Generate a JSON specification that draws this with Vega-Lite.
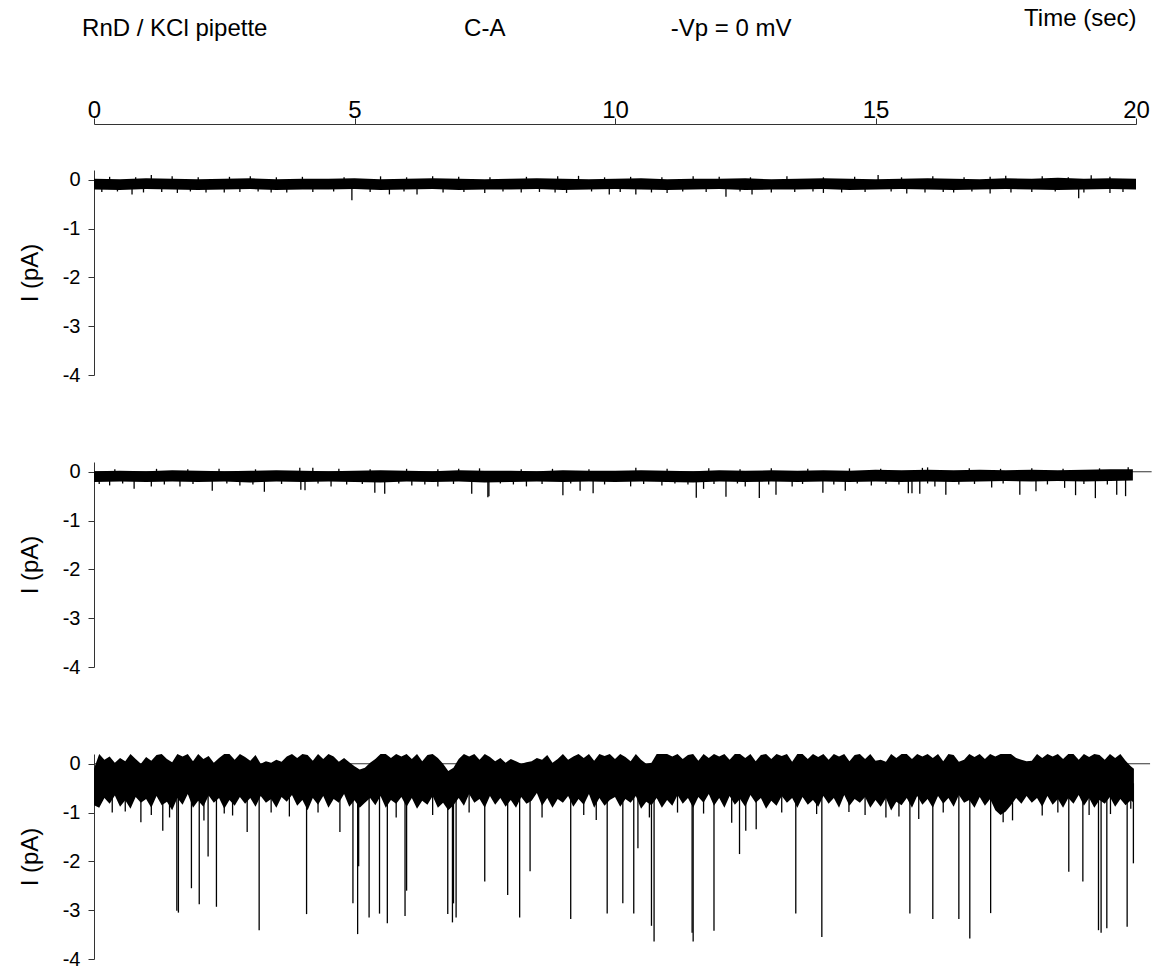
{
  "$schema": "https://vega.github.io/schema/vega-lite/v6.json",
  "padding": {"left": 18, "top": 6, "right": 4, "bottom": 0},
  "config": {
    "font": "Liberation Sans",
    "view": {"stroke": null},
    "axis": {"grid": false, "domainColor": "#333", "tickColor": "#333", "labelColor": "#000", "titleColor": "#000", "titleFontWeight": "normal", "tickSize": 6},
    "axisY": {"labelFontSize": 20, "titleFontSize": 24, "labelPadding": 8, "titlePadding": 20}
  },
  "datasets": {
    "hdr": [
      {"label": "RnD / KCl pipette", "t": 1.55},
      {"label": "C-A", "t": 7.5},
      {"label": "-Vp = 0 mV", "t": 12.23}
    ],
    "b1": [
      {"t":0,"lo":-0.2,"hi":0.02},{"t":0.5,"lo":-0.21,"hi":0.01},{"t":1.0,"lo":-0.19,"hi":0.03},{"t":1.5,"lo":-0.2,"hi":0.02},
      {"t":2.0,"lo":-0.21,"hi":0.01},{"t":2.5,"lo":-0.2,"hi":0.02},{"t":3.0,"lo":-0.19,"hi":0.03},{"t":3.5,"lo":-0.21,"hi":0.01},
      {"t":4.0,"lo":-0.2,"hi":0.02},{"t":4.5,"lo":-0.2,"hi":0.02},{"t":5.0,"lo":-0.19,"hi":0.03},{"t":5.5,"lo":-0.21,"hi":0.01},
      {"t":6.0,"lo":-0.2,"hi":0.02},{"t":6.5,"lo":-0.19,"hi":0.03},{"t":7.0,"lo":-0.21,"hi":0.02},{"t":7.5,"lo":-0.2,"hi":0.01},
      {"t":8.0,"lo":-0.2,"hi":0.02},{"t":8.5,"lo":-0.19,"hi":0.03},{"t":9.0,"lo":-0.21,"hi":0.02},{"t":9.5,"lo":-0.2,"hi":0.01},
      {"t":10.0,"lo":-0.19,"hi":0.02},{"t":10.5,"lo":-0.2,"hi":0.03},{"t":11.0,"lo":-0.21,"hi":0.01},{"t":11.5,"lo":-0.2,"hi":0.02},
      {"t":12.0,"lo":-0.19,"hi":0.02},{"t":12.5,"lo":-0.21,"hi":0.03},{"t":13.0,"lo":-0.2,"hi":0.01},{"t":13.5,"lo":-0.2,"hi":0.02},
      {"t":14.0,"lo":-0.19,"hi":0.03},{"t":14.5,"lo":-0.21,"hi":0.02},{"t":15.0,"lo":-0.2,"hi":0.01},{"t":15.5,"lo":-0.19,"hi":0.02},
      {"t":16.0,"lo":-0.2,"hi":0.03},{"t":16.5,"lo":-0.21,"hi":0.02},{"t":17.0,"lo":-0.2,"hi":0.01},{"t":17.5,"lo":-0.19,"hi":0.03},
      {"t":18.0,"lo":-0.2,"hi":0.02},{"t":18.5,"lo":-0.21,"hi":0.04},{"t":19.0,"lo":-0.2,"hi":0.02},{"t":19.5,"lo":-0.19,"hi":0.03},
      {"t":20.0,"lo":-0.2,"hi":0.02}
    ],
    "s1": [
      {"t":0.73,"lo":-0.3,"hi":-0.1},{"t":1.6,"lo":-0.27,"hi":-0.1},{"t":2.5,"lo":-0.26,"hi":-0.1},{"t":3.4,"lo":-0.26,"hi":-0.1},
      {"t":4.95,"lo":-0.42,"hi":-0.1},{"t":5.67,"lo":-0.3,"hi":-0.1},{"t":6.2,"lo":-0.3,"hi":-0.1},{"t":7.5,"lo":-0.27,"hi":-0.1},
      {"t":8.2,"lo":-0.26,"hi":-0.1},{"t":9.07,"lo":-0.27,"hi":-0.1},{"t":9.89,"lo":-0.3,"hi":-0.1},{"t":10.4,"lo":-0.3,"hi":-0.1},
      {"t":11.0,"lo":-0.27,"hi":-0.1},{"t":12.13,"lo":-0.35,"hi":-0.1},{"t":12.63,"lo":-0.3,"hi":-0.1},{"t":14.0,"lo":-0.27,"hi":-0.1},
      {"t":15.6,"lo":-0.28,"hi":-0.1},{"t":16.5,"lo":-0.26,"hi":-0.1},{"t":17.2,"lo":-0.28,"hi":-0.1},{"t":18.9,"lo":-0.38,"hi":-0.1},
      {"t":19.5,"lo":-0.27,"hi":-0.1},
      {"t":0.15,"lo":-0.25,"hi":-0.1},{"t":0.45,"lo":-0.24,"hi":-0.1},{"t":0.95,"lo":-0.26,"hi":-0.1},{"t":1.3,"lo":-0.25,"hi":-0.1},
      {"t":1.85,"lo":-0.24,"hi":-0.1},{"t":2.15,"lo":-0.26,"hi":-0.1},{"t":2.8,"lo":-0.25,"hi":-0.1},{"t":3.15,"lo":-0.24,"hi":-0.1},
      {"t":3.7,"lo":-0.26,"hi":-0.1},{"t":4.2,"lo":-0.25,"hi":-0.1},{"t":4.6,"lo":-0.24,"hi":-0.1},{"t":5.3,"lo":-0.25,"hi":-0.1},
      {"t":5.95,"lo":-0.24,"hi":-0.1},{"t":6.7,"lo":-0.26,"hi":-0.1},{"t":7.1,"lo":-0.25,"hi":-0.1},{"t":7.85,"lo":-0.24,"hi":-0.1},
      {"t":8.55,"lo":-0.25,"hi":-0.1},{"t":8.85,"lo":-0.26,"hi":-0.1},{"t":9.55,"lo":-0.24,"hi":-0.1},{"t":10.1,"lo":-0.25,"hi":-0.1},
      {"t":10.7,"lo":-0.26,"hi":-0.1},{"t":11.3,"lo":-0.24,"hi":-0.1},{"t":11.75,"lo":-0.25,"hi":-0.1},{"t":12.4,"lo":-0.24,"hi":-0.1},
      {"t":13.0,"lo":-0.26,"hi":-0.1},{"t":13.45,"lo":-0.25,"hi":-0.1},{"t":13.8,"lo":-0.24,"hi":-0.1},{"t":14.35,"lo":-0.26,"hi":-0.1},
      {"t":14.8,"lo":-0.25,"hi":-0.1},{"t":15.3,"lo":-0.24,"hi":-0.1},{"t":15.95,"lo":-0.26,"hi":-0.1},{"t":16.3,"lo":-0.25,"hi":-0.1},
      {"t":16.85,"lo":-0.24,"hi":-0.1},{"t":17.6,"lo":-0.26,"hi":-0.1},{"t":18.0,"lo":-0.25,"hi":-0.1},{"t":18.45,"lo":-0.24,"hi":-0.1},
      {"t":19.0,"lo":-0.26,"hi":-0.1},{"t":19.75,"lo":-0.25,"hi":-0.1},
      {"t":1.1,"lo":-0.1,"hi":0.1},{"t":3.0,"lo":-0.1,"hi":0.07},{"t":6.5,"lo":-0.1,"hi":0.07},{"t":9.3,"lo":-0.1,"hi":0.08},
      {"t":11.5,"lo":-0.1,"hi":0.07},{"t":15.05,"lo":-0.1,"hi":0.1},{"t":17.5,"lo":-0.1,"hi":0.08},{"t":19.14,"lo":-0.1,"hi":0.09},
      {"t":0.3,"lo":-0.1,"hi":0.06},{"t":0.8,"lo":-0.1,"hi":0.05},{"t":1.5,"lo":-0.1,"hi":0.07},{"t":2.0,"lo":-0.1,"hi":0.05},
      {"t":2.6,"lo":-0.1,"hi":0.06},{"t":3.5,"lo":-0.1,"hi":0.05},{"t":4.0,"lo":-0.1,"hi":0.06},{"t":4.8,"lo":-0.1,"hi":0.05},
      {"t":5.5,"lo":-0.1,"hi":0.07},{"t":6.0,"lo":-0.1,"hi":0.05},{"t":7.0,"lo":-0.1,"hi":0.06},{"t":7.6,"lo":-0.1,"hi":0.05},
      {"t":8.3,"lo":-0.1,"hi":0.06},{"t":8.9,"lo":-0.1,"hi":0.07},{"t":9.8,"lo":-0.1,"hi":0.05},{"t":10.3,"lo":-0.1,"hi":0.06},
      {"t":10.9,"lo":-0.1,"hi":0.05},{"t":12.0,"lo":-0.1,"hi":0.06},{"t":12.6,"lo":-0.1,"hi":0.05},{"t":13.3,"lo":-0.1,"hi":0.07},
      {"t":14.0,"lo":-0.1,"hi":0.05},{"t":14.6,"lo":-0.1,"hi":0.06},{"t":15.5,"lo":-0.1,"hi":0.05},{"t":16.1,"lo":-0.1,"hi":0.07},
      {"t":16.7,"lo":-0.1,"hi":0.05},{"t":17.2,"lo":-0.1,"hi":0.06},{"t":18.2,"lo":-0.1,"hi":0.07},{"t":18.7,"lo":-0.1,"hi":0.05},
      {"t":19.5,"lo":-0.1,"hi":0.06}
    ],
    "b2": [
      {"t":0,"lo":-0.21,"hi":0.01},{"t":0.5,"lo":-0.2,"hi":0.02},{"t":1.0,"lo":-0.21,"hi":0.01},{"t":1.5,"lo":-0.2,"hi":0.03},
      {"t":2.0,"lo":-0.21,"hi":0.02},{"t":2.5,"lo":-0.2,"hi":0.01},{"t":3.0,"lo":-0.22,"hi":0.02},{"t":3.5,"lo":-0.2,"hi":0.03},
      {"t":4.0,"lo":-0.21,"hi":0.02},{"t":4.5,"lo":-0.2,"hi":0.01},{"t":5.0,"lo":-0.21,"hi":0.02},{"t":5.5,"lo":-0.22,"hi":0.03},
      {"t":6.0,"lo":-0.2,"hi":0.02},{"t":6.5,"lo":-0.21,"hi":0.01},{"t":7.0,"lo":-0.2,"hi":0.03},{"t":7.5,"lo":-0.22,"hi":0.02},
      {"t":8.0,"lo":-0.21,"hi":0.02},{"t":8.5,"lo":-0.2,"hi":0.01},{"t":9.0,"lo":-0.21,"hi":0.03},{"t":9.5,"lo":-0.2,"hi":0.02},
      {"t":10.0,"lo":-0.21,"hi":0.02},{"t":10.5,"lo":-0.2,"hi":0.03},{"t":11.0,"lo":-0.21,"hi":0.02},{"t":11.5,"lo":-0.22,"hi":0.01},
      {"t":12.0,"lo":-0.2,"hi":0.03},{"t":12.5,"lo":-0.21,"hi":0.02},{"t":13.0,"lo":-0.2,"hi":0.03},{"t":13.5,"lo":-0.21,"hi":0.02},
      {"t":14.0,"lo":-0.2,"hi":0.03},{"t":14.5,"lo":-0.21,"hi":0.02},{"t":15.0,"lo":-0.2,"hi":0.04},{"t":15.5,"lo":-0.21,"hi":0.03},
      {"t":16.0,"lo":-0.2,"hi":0.04},{"t":16.5,"lo":-0.21,"hi":0.03},{"t":17.0,"lo":-0.2,"hi":0.04},{"t":17.5,"lo":-0.19,"hi":0.03},
      {"t":18.0,"lo":-0.2,"hi":0.04},{"t":18.5,"lo":-0.19,"hi":0.03},{"t":19.0,"lo":-0.2,"hi":0.04},{"t":19.5,"lo":-0.19,"hi":0.05},
      {"t":19.94,"lo":-0.18,"hi":0.05}
    ],
    "s2": [
      {"t":0.3,"lo":-0.28,"hi":-0.1},{"t":0.77,"lo":-0.35,"hi":-0.1},{"t":1.1,"lo":-0.3,"hi":-0.1},{"t":1.65,"lo":-0.3,"hi":-0.1},
      {"t":2.27,"lo":-0.39,"hi":-0.1},{"t":2.8,"lo":-0.28,"hi":-0.1},{"t":3.27,"lo":-0.41,"hi":-0.1},{"t":3.97,"lo":-0.37,"hi":-0.1},
      {"t":4.05,"lo":-0.38,"hi":-0.1},{"t":4.55,"lo":-0.3,"hi":-0.1},{"t":5.39,"lo":-0.43,"hi":-0.1},{"t":5.58,"lo":-0.45,"hi":-0.1},
      {"t":6.1,"lo":-0.28,"hi":-0.1},{"t":6.6,"lo":-0.3,"hi":-0.1},{"t":7.25,"lo":-0.45,"hi":-0.1},{"t":7.56,"lo":-0.52,"hi":-0.1},
      {"t":7.58,"lo":-0.5,"hi":-0.1},{"t":8.3,"lo":-0.3,"hi":-0.1},{"t":9.0,"lo":-0.48,"hi":-0.1},{"t":9.33,"lo":-0.39,"hi":-0.1},
      {"t":9.58,"lo":-0.44,"hi":-0.1},{"t":10.3,"lo":-0.3,"hi":-0.1},{"t":10.9,"lo":-0.28,"hi":-0.1},{"t":11.56,"lo":-0.53,"hi":-0.1},
      {"t":11.7,"lo":-0.35,"hi":-0.1},{"t":12.13,"lo":-0.51,"hi":-0.1},{"t":12.5,"lo":-0.3,"hi":-0.1},{"t":12.77,"lo":-0.54,"hi":-0.1},
      {"t":13.09,"lo":-0.47,"hi":-0.1},{"t":13.4,"lo":-0.3,"hi":-0.1},{"t":13.99,"lo":-0.43,"hi":-0.1},{"t":14.42,"lo":-0.39,"hi":-0.1},
      {"t":14.92,"lo":-0.28,"hi":-0.1},{"t":15.63,"lo":-0.44,"hi":-0.1},{"t":15.7,"lo":-0.44,"hi":-0.1},{"t":15.85,"lo":-0.45,"hi":-0.1},
      {"t":16.14,"lo":-0.3,"hi":-0.1},{"t":16.35,"lo":-0.47,"hi":-0.1},{"t":17.23,"lo":-0.32,"hi":-0.1},{"t":17.77,"lo":-0.47,"hi":-0.1},
      {"t":18.08,"lo":-0.4,"hi":-0.1},{"t":18.63,"lo":-0.33,"hi":-0.1},{"t":18.84,"lo":-0.48,"hi":-0.1},{"t":19.22,"lo":-0.54,"hi":-0.1},
      {"t":19.63,"lo":-0.47,"hi":-0.1},{"t":19.8,"lo":-0.5,"hi":-0.1},
      {"t":0.1,"lo":-0.25,"hi":-0.1},{"t":0.55,"lo":-0.24,"hi":-0.1},{"t":1.35,"lo":-0.26,"hi":-0.1},{"t":1.9,"lo":-0.25,"hi":-0.1},
      {"t":2.55,"lo":-0.24,"hi":-0.1},{"t":3.05,"lo":-0.26,"hi":-0.1},{"t":3.6,"lo":-0.25,"hi":-0.1},{"t":4.3,"lo":-0.24,"hi":-0.1},
      {"t":4.85,"lo":-0.26,"hi":-0.1},{"t":5.15,"lo":-0.25,"hi":-0.1},{"t":5.85,"lo":-0.24,"hi":-0.1},{"t":6.35,"lo":-0.26,"hi":-0.1},
      {"t":6.9,"lo":-0.25,"hi":-0.1},{"t":7.8,"lo":-0.24,"hi":-0.1},{"t":8.05,"lo":-0.26,"hi":-0.1},{"t":8.6,"lo":-0.25,"hi":-0.1},
      {"t":9.15,"lo":-0.24,"hi":-0.1},{"t":9.8,"lo":-0.26,"hi":-0.1},{"t":10.55,"lo":-0.25,"hi":-0.1},{"t":11.15,"lo":-0.24,"hi":-0.1},
      {"t":11.4,"lo":-0.26,"hi":-0.1},{"t":11.9,"lo":-0.25,"hi":-0.1},{"t":12.35,"lo":-0.24,"hi":-0.1},{"t":12.95,"lo":-0.26,"hi":-0.1},
      {"t":13.6,"lo":-0.25,"hi":-0.1},{"t":14.2,"lo":-0.26,"hi":-0.1},{"t":14.65,"lo":-0.24,"hi":-0.1},{"t":15.2,"lo":-0.25,"hi":-0.1},
      {"t":15.45,"lo":-0.26,"hi":-0.1},{"t":16.0,"lo":-0.24,"hi":-0.1},{"t":16.6,"lo":-0.26,"hi":-0.1},{"t":16.9,"lo":-0.25,"hi":-0.1},
      {"t":17.45,"lo":-0.24,"hi":-0.1},{"t":18.3,"lo":-0.26,"hi":-0.1},{"t":19.0,"lo":-0.25,"hi":-0.1},{"t":19.45,"lo":-0.26,"hi":-0.1},
      {"t":3.95,"lo":-0.1,"hi":0.08},{"t":4.2,"lo":-0.1,"hi":0.08},{"t":7.0,"lo":-0.1,"hi":0.06},{"t":10.4,"lo":-0.1,"hi":0.08},
      {"t":13.0,"lo":-0.1,"hi":0.07},{"t":16.0,"lo":-0.1,"hi":0.09},{"t":19.85,"lo":-0.1,"hi":0.09},
      {"t":0.4,"lo":-0.1,"hi":0.05},{"t":1.2,"lo":-0.1,"hi":0.06},{"t":1.8,"lo":-0.1,"hi":0.05},{"t":2.4,"lo":-0.1,"hi":0.06},
      {"t":3.1,"lo":-0.1,"hi":0.05},{"t":4.7,"lo":-0.1,"hi":0.06},{"t":5.3,"lo":-0.1,"hi":0.05},{"t":6.0,"lo":-0.1,"hi":0.06},
      {"t":6.6,"lo":-0.1,"hi":0.05},{"t":7.4,"lo":-0.1,"hi":0.07},{"t":8.2,"lo":-0.1,"hi":0.05},{"t":8.8,"lo":-0.1,"hi":0.06},
      {"t":9.5,"lo":-0.1,"hi":0.05},{"t":11.0,"lo":-0.1,"hi":0.06},{"t":11.8,"lo":-0.1,"hi":0.07},{"t":12.4,"lo":-0.1,"hi":0.05},
      {"t":13.7,"lo":-0.1,"hi":0.06},{"t":14.5,"lo":-0.1,"hi":0.07},{"t":15.1,"lo":-0.1,"hi":0.06},{"t":15.9,"lo":-0.1,"hi":0.08},
      {"t":16.8,"lo":-0.1,"hi":0.07},{"t":17.4,"lo":-0.1,"hi":0.06},{"t":18.0,"lo":-0.1,"hi":0.07},{"t":18.6,"lo":-0.1,"hi":0.06},
      {"t":19.3,"lo":-0.1,"hi":0.07}
    ],
    "b3": [
      {"t":0,"lo":-0.85,"hi":-0.1},{"t":0.1,"lo":-0.9,"hi":0.2},{"t":0.2,"lo":-0.7,"hi":0.08},{"t":0.3,"lo":-0.82,"hi":0.15},{"t":0.4,"lo":-0.65,"hi":0.02},
      {"t":0.5,"lo":-0.88,"hi":0.12},{"t":0.6,"lo":-0.75,"hi":0.05},{"t":0.7,"lo":-0.92,"hi":0.2},{"t":0.8,"lo":-0.68,"hi":0.1},{"t":0.9,"lo":-0.8,"hi":0.0},
      {"t":1.0,"lo":-0.72,"hi":0.14},{"t":1.1,"lo":-0.9,"hi":0.06},{"t":1.2,"lo":-0.66,"hi":0.18},{"t":1.3,"lo":-0.85,"hi":0.2},{"t":1.4,"lo":-0.78,"hi":0.1},
      {"t":1.5,"lo":-0.95,"hi":0.03},{"t":1.6,"lo":-0.7,"hi":0.2},{"t":1.7,"lo":-0.84,"hi":0.15},{"t":1.8,"lo":-0.62,"hi":0.2},{"t":1.9,"lo":-0.9,"hi":0.05},
      {"t":2.0,"lo":-0.76,"hi":0.2},{"t":2.1,"lo":-0.88,"hi":0.1},{"t":2.2,"lo":-0.65,"hi":0.16},{"t":2.3,"lo":-0.8,"hi":0.02},{"t":2.4,"lo":-0.7,"hi":0.12},
      {"t":2.5,"lo":-0.92,"hi":0.2},{"t":2.6,"lo":-0.74,"hi":0.2},{"t":2.7,"lo":-0.86,"hi":0.08},{"t":2.8,"lo":-0.68,"hi":0.2},{"t":2.9,"lo":-0.82,"hi":0.14},
      {"t":3.0,"lo":-0.7,"hi":0.06},{"t":3.1,"lo":-0.88,"hi":0.18},{"t":3.2,"lo":-0.66,"hi":0.0},{"t":3.3,"lo":-0.8,"hi":0.05},{"t":3.4,"lo":-0.72,"hi":0.02},
      {"t":3.5,"lo":-0.9,"hi":0.08},{"t":3.6,"lo":-0.68,"hi":0.04},{"t":3.7,"lo":-0.78,"hi":0.15},{"t":3.8,"lo":-0.64,"hi":0.2},{"t":3.9,"lo":-0.86,"hi":0.12},
      {"t":4.0,"lo":-0.74,"hi":0.2},{"t":4.1,"lo":-0.95,"hi":0.18},{"t":4.2,"lo":-0.7,"hi":0.06},{"t":4.3,"lo":-0.84,"hi":0.2},{"t":4.4,"lo":-0.66,"hi":0.1},
      {"t":4.5,"lo":-0.9,"hi":0.2},{"t":4.6,"lo":-0.72,"hi":0.15},{"t":4.7,"lo":-0.8,"hi":0.04},{"t":4.8,"lo":-0.62,"hi":0.12},{"t":4.9,"lo":-0.88,"hi":0.03},
      {"t":5.0,"lo":-0.75,"hi":-0.05},{"t":5.1,"lo":-0.9,"hi":-0.12},{"t":5.2,"lo":-0.8,"hi":-0.08},{"t":5.3,"lo":-0.7,"hi":0.02},{"t":5.4,"lo":-0.85,"hi":0.1},
      {"t":5.5,"lo":-0.66,"hi":0.2},{"t":5.6,"lo":-0.9,"hi":0.2},{"t":5.7,"lo":-0.74,"hi":0.12},{"t":5.8,"lo":-0.82,"hi":0.2},{"t":5.9,"lo":-0.68,"hi":0.15},
      {"t":6.0,"lo":-0.88,"hi":0.2},{"t":6.1,"lo":-0.7,"hi":0.1},{"t":6.2,"lo":-0.92,"hi":0.2},{"t":6.3,"lo":-0.76,"hi":0.05},{"t":6.4,"lo":-0.84,"hi":0.18},
      {"t":6.5,"lo":-0.66,"hi":0.2},{"t":6.6,"lo":-0.9,"hi":0.12},{"t":6.7,"lo":-0.8,"hi":0.0},{"t":6.8,"lo":-0.95,"hi":-0.15},{"t":6.9,"lo":-0.85,"hi":-0.08},
      {"t":7.0,"lo":-0.7,"hi":0.1},{"t":7.1,"lo":-0.86,"hi":0.2},{"t":7.2,"lo":-0.62,"hi":0.15},{"t":7.3,"lo":-0.8,"hi":0.2},{"t":7.4,"lo":-0.72,"hi":0.08},
      {"t":7.5,"lo":-0.9,"hi":0.2},{"t":7.6,"lo":-0.66,"hi":0.14},{"t":7.7,"lo":-0.84,"hi":0.05},{"t":7.8,"lo":-0.7,"hi":0.12},{"t":7.9,"lo":-0.88,"hi":0.02},
      {"t":8.0,"lo":-0.74,"hi":0.1},{"t":8.1,"lo":-0.9,"hi":0.05},{"t":8.2,"lo":-0.68,"hi":0.0},{"t":8.3,"lo":-0.82,"hi":0.03},{"t":8.4,"lo":-0.76,"hi":0.05},
      {"t":8.5,"lo":-0.6,"hi":0.12},{"t":8.6,"lo":-0.86,"hi":0.08},{"t":8.7,"lo":-0.7,"hi":0.18},{"t":8.8,"lo":-0.9,"hi":0.02},{"t":8.9,"lo":-0.72,"hi":0.1},
      {"t":9.0,"lo":-0.8,"hi":0.2},{"t":9.1,"lo":-0.66,"hi":0.08},{"t":9.2,"lo":-0.88,"hi":0.15},{"t":9.3,"lo":-0.72,"hi":0.2},{"t":9.4,"lo":-0.84,"hi":0.12},
      {"t":9.5,"lo":-0.62,"hi":0.2},{"t":9.6,"lo":-0.9,"hi":0.06},{"t":9.7,"lo":-0.7,"hi":0.2},{"t":9.8,"lo":-0.86,"hi":0.16},{"t":9.9,"lo":-0.74,"hi":0.2},
      {"t":10.0,"lo":-0.68,"hi":0.1},{"t":10.1,"lo":-0.88,"hi":0.2},{"t":10.2,"lo":-0.72,"hi":0.14},{"t":10.3,"lo":-0.8,"hi":0.05},{"t":10.4,"lo":-0.66,"hi":0.2},
      {"t":10.5,"lo":-0.92,"hi":0.08},{"t":10.6,"lo":-0.78,"hi":0.0},{"t":10.7,"lo":-0.85,"hi":0.02},{"t":10.8,"lo":-0.7,"hi":0.2},{"t":10.9,"lo":-0.9,"hi":0.2},
      {"t":11.0,"lo":-0.74,"hi":0.2},{"t":11.1,"lo":-0.86,"hi":0.15},{"t":11.2,"lo":-0.64,"hi":0.2},{"t":11.3,"lo":-0.82,"hi":0.1},{"t":11.4,"lo":-0.7,"hi":0.18},
      {"t":11.5,"lo":-0.9,"hi":0.2},{"t":11.6,"lo":-0.68,"hi":0.06},{"t":11.7,"lo":-0.8,"hi":0.2},{"t":11.8,"lo":-0.62,"hi":0.12},{"t":11.9,"lo":-0.86,"hi":0.2},
      {"t":12.0,"lo":-0.7,"hi":0.15},{"t":12.1,"lo":-0.9,"hi":0.2},{"t":12.2,"lo":-0.66,"hi":0.08},{"t":12.3,"lo":-0.84,"hi":0.2},{"t":12.4,"lo":-0.72,"hi":0.2},
      {"t":12.5,"lo":-0.88,"hi":0.12},{"t":12.6,"lo":-0.64,"hi":0.2},{"t":12.7,"lo":-0.8,"hi":0.05},{"t":12.8,"lo":-0.7,"hi":0.18},{"t":12.9,"lo":-0.92,"hi":0.2},
      {"t":13.0,"lo":-0.76,"hi":0.1},{"t":13.1,"lo":-0.86,"hi":0.2},{"t":13.2,"lo":-0.66,"hi":0.16},{"t":13.3,"lo":-0.8,"hi":0.2},{"t":13.4,"lo":-0.7,"hi":0.04},
      {"t":13.5,"lo":-0.9,"hi":0.2},{"t":13.6,"lo":-0.68,"hi":0.2},{"t":13.7,"lo":-0.84,"hi":0.1},{"t":13.8,"lo":-0.74,"hi":0.2},{"t":13.9,"lo":-0.88,"hi":0.14},
      {"t":14.0,"lo":-0.66,"hi":0.2},{"t":14.1,"lo":-0.82,"hi":0.08},{"t":14.2,"lo":-0.7,"hi":0.2},{"t":14.3,"lo":-0.9,"hi":0.15},{"t":14.4,"lo":-0.64,"hi":0.2},
      {"t":14.5,"lo":-0.86,"hi":0.05},{"t":14.6,"lo":-0.72,"hi":0.18},{"t":14.7,"lo":-0.8,"hi":0.2},{"t":14.8,"lo":-0.68,"hi":0.1},{"t":14.9,"lo":-0.9,"hi":0.2},
      {"t":15.0,"lo":-0.74,"hi":0.06},{"t":15.1,"lo":-0.88,"hi":0.08},{"t":15.2,"lo":-0.7,"hi":0.04},{"t":15.3,"lo":-0.96,"hi":0.2},{"t":15.4,"lo":-0.78,"hi":0.12},
      {"t":15.5,"lo":-0.85,"hi":0.2},{"t":15.6,"lo":-0.7,"hi":0.2},{"t":15.7,"lo":-0.9,"hi":0.1},{"t":15.8,"lo":-0.66,"hi":0.2},{"t":15.9,"lo":-0.84,"hi":0.15},
      {"t":16.0,"lo":-0.72,"hi":0.2},{"t":16.1,"lo":-0.9,"hi":0.12},{"t":16.2,"lo":-0.66,"hi":0.2},{"t":16.3,"lo":-0.82,"hi":0.05},{"t":16.4,"lo":-0.7,"hi":0.2},
      {"t":16.5,"lo":-0.88,"hi":0.18},{"t":16.6,"lo":-0.64,"hi":0.04},{"t":16.7,"lo":-0.8,"hi":0.08},{"t":16.8,"lo":-0.74,"hi":0.2},{"t":16.9,"lo":-0.9,"hi":0.14},
      {"t":17.0,"lo":-0.68,"hi":0.2},{"t":17.1,"lo":-0.86,"hi":0.1},{"t":17.2,"lo":-0.72,"hi":0.2},{"t":17.3,"lo":-0.95,"hi":0.15},{"t":17.4,"lo":-1.05,"hi":0.2},
      {"t":17.5,"lo":-0.98,"hi":0.2},{"t":17.6,"lo":-0.85,"hi":0.2},{"t":17.7,"lo":-0.7,"hi":0.12},{"t":17.8,"lo":-0.82,"hi":0.08},{"t":17.9,"lo":-0.66,"hi":0.05},
      {"t":18.0,"lo":-0.8,"hi":0.06},{"t":18.1,"lo":-0.7,"hi":0.2},{"t":18.2,"lo":-0.88,"hi":0.12},{"t":18.3,"lo":-0.66,"hi":0.2},{"t":18.4,"lo":-0.84,"hi":0.15},
      {"t":18.5,"lo":-0.72,"hi":0.2},{"t":18.6,"lo":-0.9,"hi":0.1},{"t":18.7,"lo":-0.7,"hi":0.2},{"t":18.8,"lo":-0.82,"hi":0.2},{"t":18.9,"lo":-0.64,"hi":0.08},
      {"t":19.0,"lo":-0.86,"hi":0.2},{"t":19.1,"lo":-0.7,"hi":0.14},{"t":19.2,"lo":-0.9,"hi":0.2},{"t":19.3,"lo":-0.74,"hi":0.18},{"t":19.4,"lo":-0.82,"hi":0.08},
      {"t":19.5,"lo":-0.68,"hi":0.2},{"t":19.6,"lo":-0.88,"hi":0.12},{"t":19.7,"lo":-0.72,"hi":0.2},{"t":19.8,"lo":-0.85,"hi":0.06},{"t":19.9,"lo":-0.75,"hi":-0.05},
      {"t":19.96,"lo":-0.8,"hi":-0.1}
    ],
    "s3": [
      {"t":0.35,"lo":-1.0,"hi":-0.4},{"t":0.6,"lo":-0.98,"hi":-0.4},{"t":0.9,"lo":-1.2,"hi":-0.4},{"t":1.1,"lo":-1.05,"hi":-0.4},
      {"t":1.32,"lo":-1.37,"hi":-0.4},{"t":1.45,"lo":-1.1,"hi":-0.4},{"t":1.59,"lo":-3.01,"hi":-0.4},{"t":1.62,"lo":-3.05,"hi":-0.4},
      {"t":1.87,"lo":-2.55,"hi":-0.4},{"t":2.02,"lo":-2.88,"hi":-0.4},{"t":2.11,"lo":-1.16,"hi":-0.4},{"t":2.19,"lo":-1.9,"hi":-0.4},
      {"t":2.35,"lo":-2.93,"hi":-0.4},{"t":2.5,"lo":-1.02,"hi":-0.4},{"t":2.66,"lo":-1.06,"hi":-0.4},{"t":2.94,"lo":-1.4,"hi":-0.4},
      {"t":3.17,"lo":-3.41,"hi":-0.4},{"t":3.4,"lo":-1.0,"hi":-0.4},{"t":3.75,"lo":-1.08,"hi":-0.4},{"t":4.08,"lo":-3.08,"hi":-0.4},
      {"t":4.3,"lo":-1.0,"hi":-0.4},{"t":4.72,"lo":-1.4,"hi":-0.4},{"t":4.97,"lo":-2.86,"hi":-0.4},{"t":5.06,"lo":-3.49,"hi":-0.4},
      {"t":5.08,"lo":-2.1,"hi":-0.4},{"t":5.28,"lo":-3.15,"hi":-0.4},{"t":5.48,"lo":-3.07,"hi":-0.4},{"t":5.63,"lo":-3.27,"hi":-0.4},
      {"t":5.8,"lo":-1.1,"hi":-0.4},{"t":5.97,"lo":-3.12,"hi":-0.4},{"t":6.0,"lo":-2.6,"hi":-0.4},{"t":6.5,"lo":-1.05,"hi":-0.4},
      {"t":6.79,"lo":-3.08,"hi":-0.4},{"t":6.88,"lo":-3.25,"hi":-0.4},{"t":6.9,"lo":-2.86,"hi":-0.4},{"t":6.95,"lo":-3.15,"hi":-0.4},
      {"t":7.2,"lo":-1.0,"hi":-0.4},{"t":7.5,"lo":-2.41,"hi":-0.4},{"t":7.94,"lo":-2.69,"hi":-0.4},{"t":8.17,"lo":-3.15,"hi":-0.4},
      {"t":8.37,"lo":-2.2,"hi":-0.4},{"t":8.6,"lo":-1.1,"hi":-0.4},{"t":9.15,"lo":-3.18,"hi":-0.4},{"t":9.4,"lo":-1.05,"hi":-0.4},
      {"t":9.64,"lo":-1.15,"hi":-0.4},{"t":9.85,"lo":-3.07,"hi":-0.4},{"t":10.15,"lo":-2.86,"hi":-0.4},{"t":10.36,"lo":-3.07,"hi":-0.4},
      {"t":10.44,"lo":-1.73,"hi":-0.4},{"t":10.66,"lo":-1.1,"hi":-0.4},{"t":10.7,"lo":-3.32,"hi":-0.4},{"t":10.75,"lo":-3.64,"hi":-0.4},
      {"t":11.2,"lo":-1.0,"hi":-0.4},{"t":11.48,"lo":-3.46,"hi":-0.4},{"t":11.5,"lo":-3.64,"hi":-0.4},{"t":11.7,"lo":-1.02,"hi":-0.4},
      {"t":11.9,"lo":-3.42,"hi":-0.4},{"t":12.24,"lo":-1.21,"hi":-0.4},{"t":12.39,"lo":-1.85,"hi":-0.4},{"t":12.51,"lo":-1.37,"hi":-0.4},
      {"t":12.71,"lo":-1.34,"hi":-0.4},{"t":13.2,"lo":-1.0,"hi":-0.4},{"t":13.47,"lo":-3.07,"hi":-0.4},{"t":13.87,"lo":-1.03,"hi":-0.4},
      {"t":13.97,"lo":-3.55,"hi":-0.4},{"t":14.49,"lo":-0.99,"hi":-0.4},{"t":14.8,"lo":-1.05,"hi":-0.4},{"t":15.2,"lo":-1.1,"hi":-0.4},
      {"t":15.45,"lo":-1.08,"hi":-0.4},{"t":15.66,"lo":-3.07,"hi":-0.4},{"t":15.83,"lo":-1.13,"hi":-0.4},{"t":16.1,"lo":-3.18,"hi":-0.4},
      {"t":16.3,"lo":-1.0,"hi":-0.4},{"t":16.6,"lo":-3.18,"hi":-0.4},{"t":16.81,"lo":-3.58,"hi":-0.4},{"t":17.21,"lo":-3.06,"hi":-0.4},
      {"t":17.45,"lo":-1.2,"hi":-0.4},{"t":17.63,"lo":-1.16,"hi":-0.4},{"t":18.2,"lo":-1.06,"hi":-0.4},{"t":18.5,"lo":-1.0,"hi":-0.4},
      {"t":18.71,"lo":-2.21,"hi":-0.4},{"t":18.98,"lo":-2.41,"hi":-0.4},{"t":19.1,"lo":-1.05,"hi":-0.4},{"t":19.28,"lo":-3.41,"hi":-0.4},
      {"t":19.33,"lo":-3.46,"hi":-0.4},{"t":19.44,"lo":-3.37,"hi":-0.4},{"t":19.51,"lo":-1.03,"hi":-0.4},{"t":19.83,"lo":-3.34,"hi":-0.4},
      {"t":19.9,"lo":-0.92,"hi":-0.4},{"t":19.95,"lo":-2.04,"hi":-0.4}
    ]
  },
  "bounds": "flush",
  "spacing": 131,
  "vconcat": [
    {
      "width": 1042,
      "height": 20,
      "data": {"name": "hdr"},
      "mark": {"type": "text", "fontSize": 24, "baseline": "middle", "align": "center", "color": "#000"},
      "encoding": {
        "x": {"field": "t", "type": "quantitative", "scale": {"domain": [0, 20], "nice": false, "zero": false}, "axis": null},
        "text": {"field": "label"}
      }
    },
    {
      "bounds": "flush",
      "spacing": 87,
      "vconcat": [
        {
          "width": 1042,
          "height": 205,
          "layer": [
            {
              "data": {"name": "b1"},
              "mark": {"type": "area", "color": "#000", "clip": true},
              "encoding": {
                "x": {"field": "t", "type": "quantitative", "scale": {"domain": [0, 20], "nice": false, "zero": false},
                  "axis": {"orient": "top", "values": [0, 5, 10, 15, 20], "offset": 46, "labelFontSize": 24, "labelBaseline": "alphabetic", "labelPadding": 1, "labelFlush": false, "title": "Time (sec)", "titleFontSize": 24, "titleAlign": "right", "titleBaseline": "middle", "titleX": 1042, "titleY": -106}},
                "y": {"field": "lo", "type": "quantitative", "scale": {"domain": [-4, 0.2], "nice": false, "zero": false},
                  "axis": {"values": [0, -1, -2, -3, -4], "title": "I (pA)", "labelExpr": "'' + datum.value"}},
                "y2": {"field": "hi"}
              }
            },
            {
              "data": {"name": "s1"},
              "mark": {"type": "rule", "color": "#000", "strokeWidth": 1.3, "clip": true},
              "encoding": {
                "x": {"field": "t", "type": "quantitative",
                  "axis": {"orient": "top", "values": [0, 5, 10, 15, 20], "offset": 46, "labelFontSize": 24, "labelBaseline": "alphabetic", "labelPadding": 1, "labelFlush": false, "title": "Time (sec)", "titleFontSize": 24, "titleAlign": "right", "titleBaseline": "middle", "titleX": 1042, "titleY": -106}},
                "y": {"field": "lo", "type": "quantitative",
                  "axis": {"values": [0, -1, -2, -3, -4], "title": "I (pA)", "labelExpr": "'' + datum.value"}},
                "y2": {"field": "hi"}
              }
            }
          ]
        },
        {
          "width": 1042,
          "height": 205,
          "layer": [
            {
              "data": {"values": [{}]},
              "mark": {"type": "rule", "color": "#333", "strokeWidth": 1},
              "encoding": {
                "x": {"datum": 0, "type": "quantitative", "scale": {"domain": [0, 20], "nice": false, "zero": false}, "axis": null},
                "x2": {"datum": 20.3},
                "y": {"datum": 0, "type": "quantitative", "scale": {"domain": [-4, 0.2], "nice": false, "zero": false},
                  "axis": {"values": [0, -1, -2, -3, -4], "title": "I (pA)", "labelExpr": "'' + datum.value"}}
              }
            },
            {
              "data": {"name": "b2"},
              "mark": {"type": "area", "color": "#000", "clip": true},
              "encoding": {
                "x": {"field": "t", "type": "quantitative", "axis": null},
                "y": {"field": "lo", "type": "quantitative",
                  "axis": {"values": [0, -1, -2, -3, -4], "title": "I (pA)", "labelExpr": "'' + datum.value"}},
                "y2": {"field": "hi"}
              }
            },
            {
              "data": {"name": "s2"},
              "mark": {"type": "rule", "color": "#000", "strokeWidth": 1.3, "clip": true},
              "encoding": {
                "x": {"field": "t", "type": "quantitative", "axis": null},
                "y": {"field": "lo", "type": "quantitative",
                  "axis": {"values": [0, -1, -2, -3, -4], "title": "I (pA)", "labelExpr": "'' + datum.value"}},
                "y2": {"field": "hi"}
              }
            }
          ]
        },
        {
          "width": 1042,
          "height": 205,
          "layer": [
            {
              "data": {"values": [{}]},
              "mark": {"type": "rule", "color": "#333", "strokeWidth": 1},
              "encoding": {
                "x": {"datum": 0, "type": "quantitative", "scale": {"domain": [0, 20], "nice": false, "zero": false}, "axis": null},
                "x2": {"datum": 20.27},
                "y": {"datum": 0, "type": "quantitative", "scale": {"domain": [-4, 0.2], "nice": false, "zero": false},
                  "axis": {"values": [0, -1, -2, -3, -4], "title": "I (pA)", "labelExpr": "'' + datum.value"}}
              }
            },
            {
              "data": {"name": "b3"},
              "mark": {"type": "area", "color": "#000", "clip": true},
              "encoding": {
                "x": {"field": "t", "type": "quantitative", "axis": null},
                "y": {"field": "lo", "type": "quantitative",
                  "axis": {"values": [0, -1, -2, -3, -4], "title": "I (pA)", "labelExpr": "'' + datum.value"}},
                "y2": {"field": "hi"}
              }
            },
            {
              "data": {"name": "s3"},
              "mark": {"type": "rule", "color": "#000", "strokeWidth": 1.3, "clip": true},
              "encoding": {
                "x": {"field": "t", "type": "quantitative", "axis": null},
                "y": {"field": "lo", "type": "quantitative",
                  "axis": {"values": [0, -1, -2, -3, -4], "title": "I (pA)", "labelExpr": "'' + datum.value"}},
                "y2": {"field": "hi"}
              }
            }
          ]
        }
      ]
    }
  ]
}
